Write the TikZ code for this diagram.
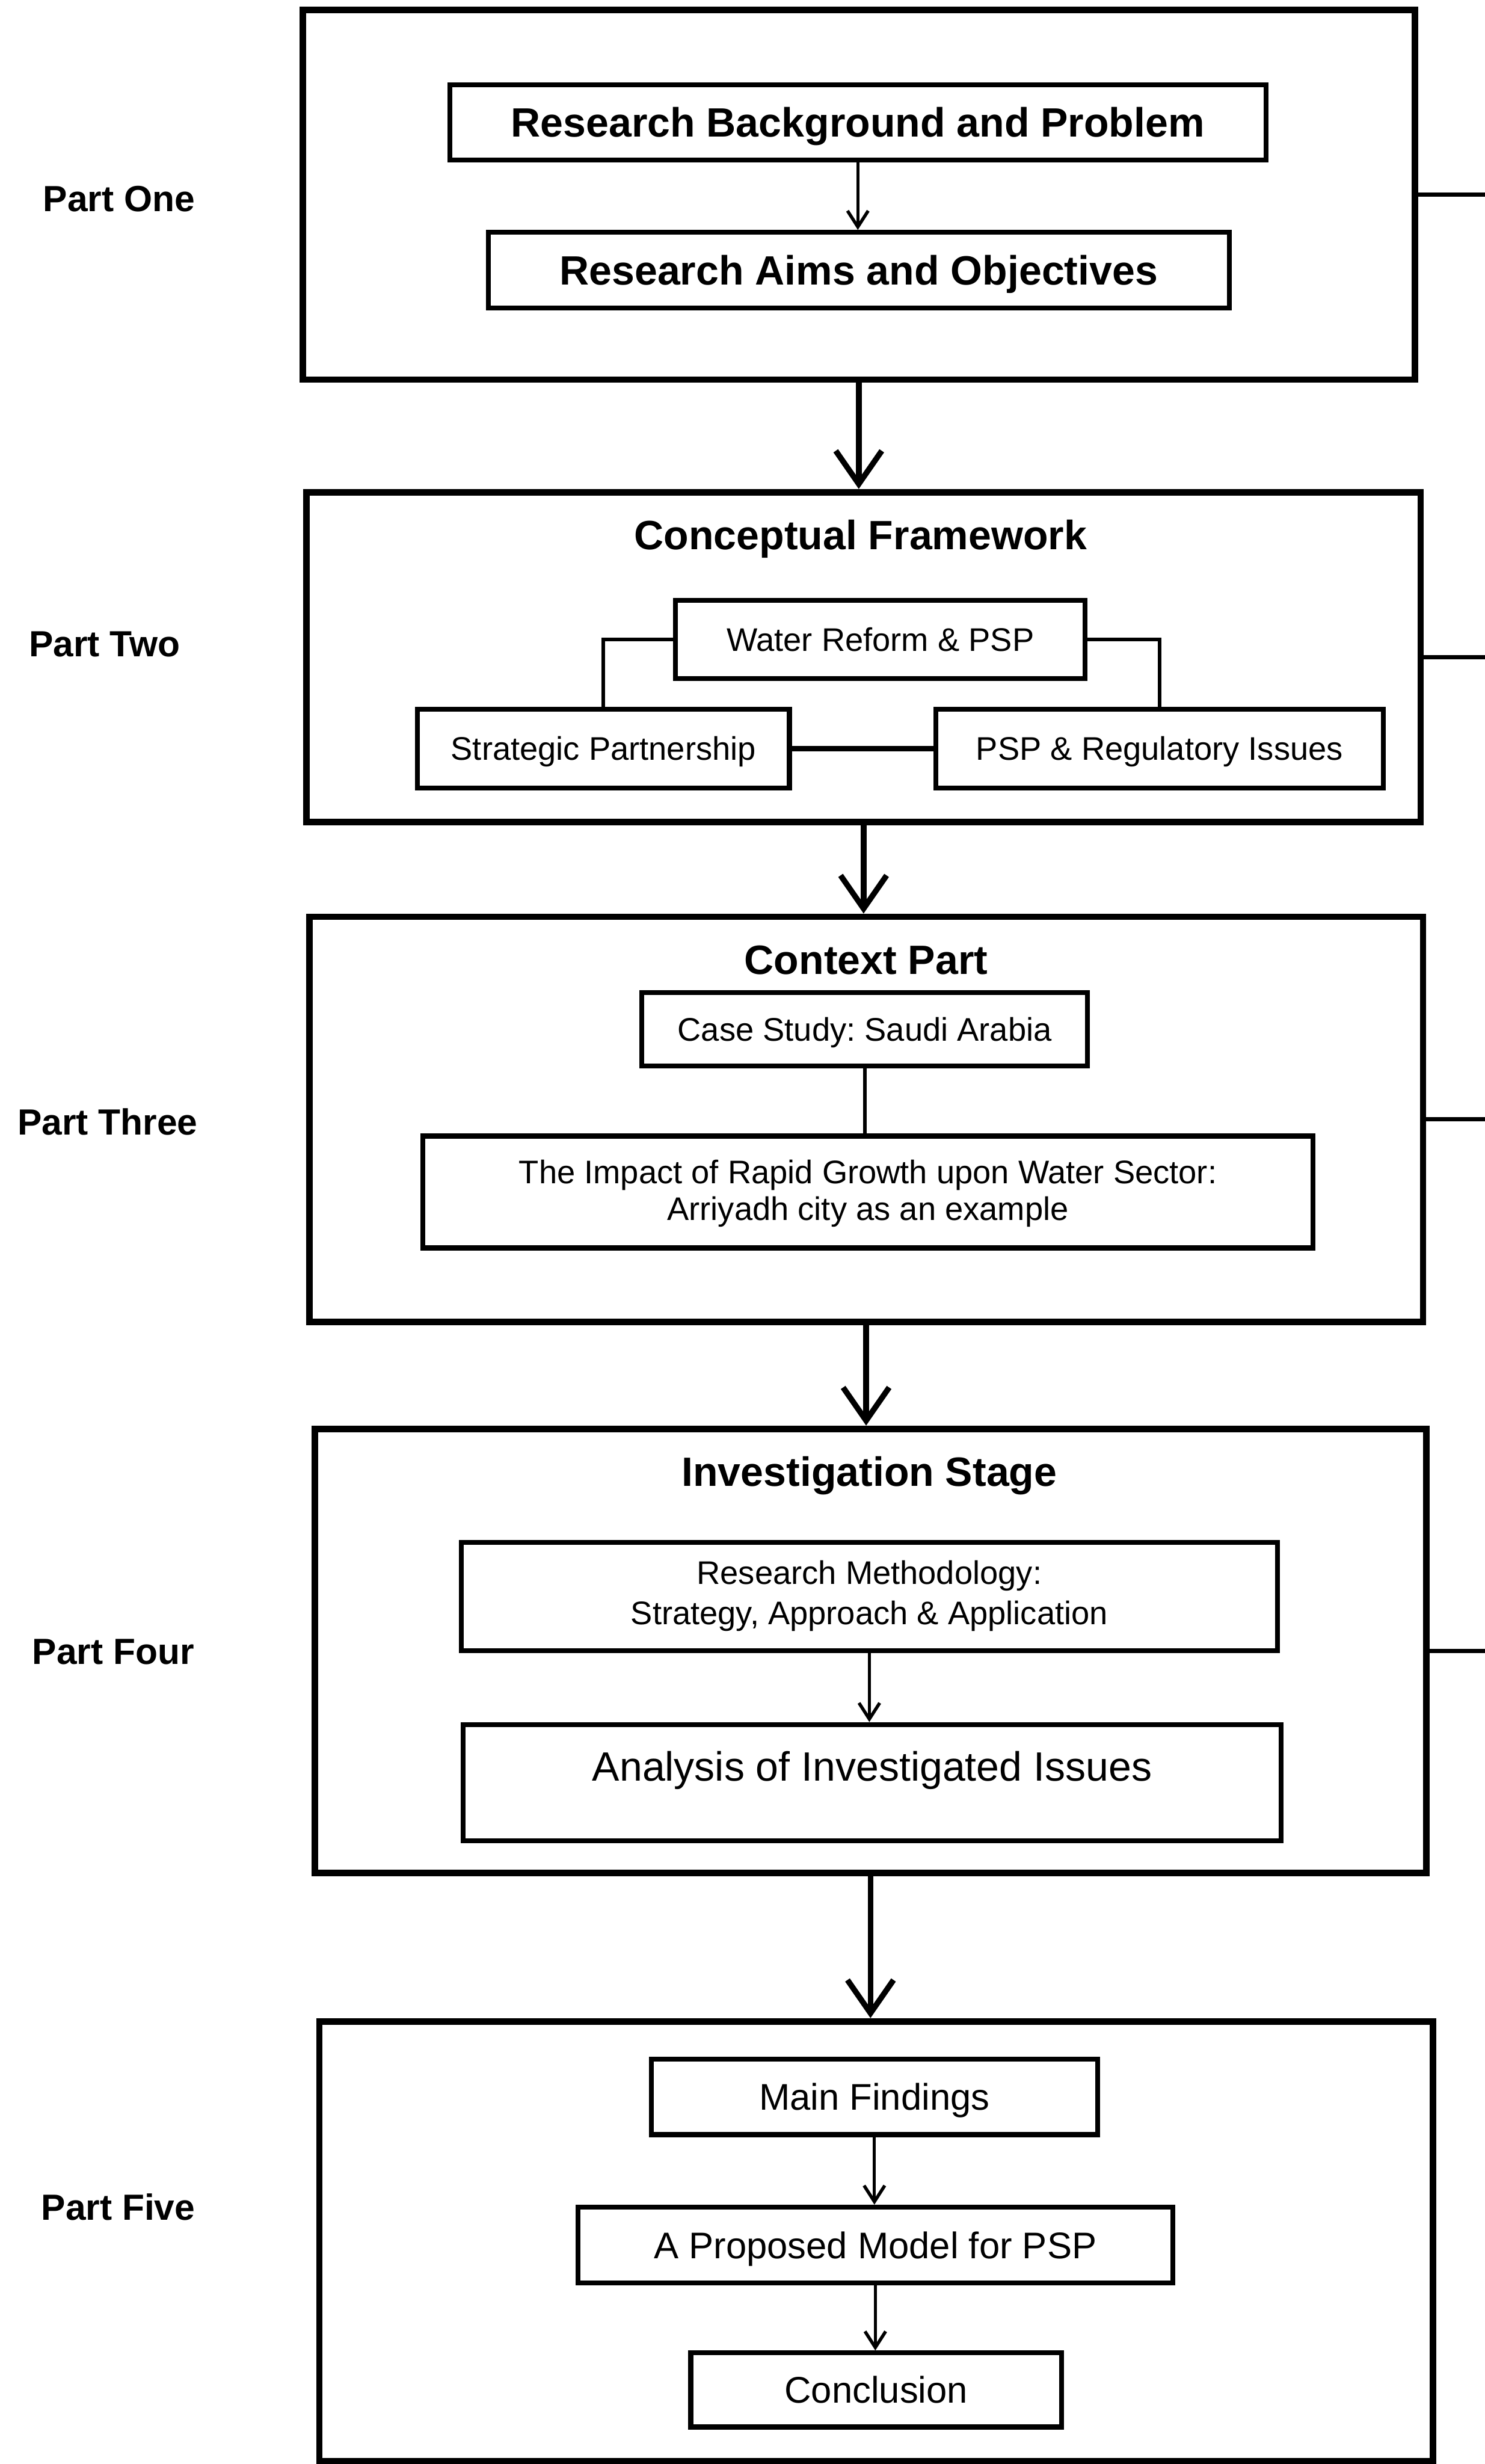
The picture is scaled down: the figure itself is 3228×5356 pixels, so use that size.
\documentclass[tikz,border=0pt]{standalone}
\usepackage{fontspec}
\setmainfont{Liberation Sans}
\usetikzlibrary{arrows.meta}
\frenchspacing
\begin{document}
\begin{tikzpicture}[x=0.01cm, y=-0.01cm,
  bigbox/.style={draw, line width=4pt, inner sep=0pt},
  inbox/.style={draw, line width=3pt, inner sep=0pt, align=center},
  fbig/.style={font=\bfseries\fontsize{25.3}{30}\selectfont, text height=18.1pt, text depth=0pt},
  fmid/.style={font=\fontsize{22.9}{27}\selectfont, text height=16.4pt, text depth=0pt},
  fsmall/.style={font=\fontsize{20.2}{24}\selectfont, text height=14.5pt, text depth=0pt},
  partlbl/.style={anchor=base, inner sep=0pt, font=\bfseries\fontsize{22.5}{27}\selectfont},
  ttl/.style={anchor=base, inner sep=0pt, font=\bfseries\fontsize{25.3}{30}\selectfont},
  bigarrow/.style={line width=3.5pt, -{Straight Barb[length=7.2mm, width=10mm]}},
  smallarrow/.style={line width=2pt, -{Straight Barb[length=3.5mm, width=4.5mm]}},
  link/.style={line width=2.2pt},
  thicklink/.style={line width=3.5pt},
  sideline/.style={line width=2.6pt}]
\useasboundingbox (0,0) rectangle (3228,5356);
\coordinate (edge) at (3228,0);

% stage frames
\node[bigbox, minimum width=24.16cm, minimum height=8.03cm] (p1) at (1867,423.5) {};
\node[bigbox, minimum width=24.21cm, minimum height=7.17cm] (p2) at (1877.5,1428.5) {};
\node[bigbox, minimum width=24.20cm, minimum height=8.80cm] (p3) at (1883,2433) {};
\node[bigbox, minimum width=24.15cm, minimum height=9.65cm] (p4) at (1892.5,3588.5) {};
\node[bigbox, minimum width=24.20cm, minimum height=9.56cm] (p5) at (1905,4872) {};

% part labels
\node[partlbl] (l1) at (259,459) {Part One};
\node[partlbl] (l2) at (227,1427) {Part Two};
\node[partlbl] (l3) at (234,2467) {Part Three};
\node[partlbl] (l4) at (246,3618) {Part Four};
\node[partlbl] (l5) at (257,4826) {Part Five};

% stage titles
\node[ttl] (t2) at (1871,1195) {Conceptual Framework};
\node[ttl] (t3) at (1883,2118) {Context Part};
\node[ttl] (t4) at (1890,3231) {Investigation Stage};

% part one
\node[inbox, fbig, minimum width=17.74cm, minimum height=1.64cm] (rbp) at (1865,266) {Research Background and Problem};
\node[inbox, fbig, minimum width=16.10cm, minimum height=1.64cm] (rao) at (1867,587) {Research Aims and Objectives};

% part two
\node[inbox, fsmall, minimum width=8.90cm, minimum height=1.71cm] (wr) at (1914,1390) {Water Reform \& PSP};
\node[inbox, fsmall, minimum width=8.08cm, minimum height=1.71cm] (sp) at (1312,1627) {Strategic Partnership};
\node[inbox, fsmall, minimum width=9.73cm, minimum height=1.71cm] (pr) at (2521,1627) {PSP \& Regulatory Issues};

% part three
\node[inbox, fsmall, minimum width=9.68cm, minimum height=1.60cm] (cs) at (1880,2237) {Case Study: Saudi Arabia};
\node[inbox, font=\fontsize{20.2}{22.8}\selectfont, text height=37.3pt, text depth=2pt,
      minimum width=19.35cm, minimum height=2.43cm] (imp) at (1887,2591)
      {The Impact of Rapid Growth upon Water Sector:\\ Arriyadh city as an example};

% part four
\node[inbox, font=\fontsize{20.2}{25}\selectfont, text height=39.5pt, text depth=4.9pt,
      minimum width=17.74cm, minimum height=2.35cm] (rm) at (1890,3470)
      {Research Methodology:\\ Strategy, Approach \& Application};
\node[inbox, font=\fontsize{25.3}{30}\selectfont, text height=18.1pt, text depth=20.4pt,
      minimum width=17.77cm, minimum height=2.53cm] (aii) at (1896,3875) {Analysis of Investigated Issues};

% part five
\node[inbox, fmid, minimum width=9.69cm, minimum height=1.64cm] (mf) at (1901,4558) {Main Findings};
\node[inbox, fmid, minimum width=12.93cm, minimum height=1.65cm] (pm) at (1903,4880) {A Proposed Model for PSP};
\node[inbox, fmid, minimum width=8.06cm, minimum height=1.61cm] (cc) at (1905,5195) {Conclusion};

% links inside the stages
\draw[smallarrow] (rbp.south) -- (rbp.south |- rao.north);
\draw[link] (wr.west) -| (sp.north);
\draw[link] (wr.east) -| (pr.north);
\draw[thicklink] (sp.east) -- (pr.west);
\draw[link] (cs.south) -- (cs.south |- imp.north);
\draw[smallarrow] (rm.south) -- (rm.south |- aii.north);
\draw[smallarrow] (mf.south) -- (mf.south |- pm.north);
\draw[smallarrow] (pm.south) -- (pm.south |- cc.north);

% flow between stages
\draw[bigarrow] (p1.south) -- (p1.south |- p2.north);
\draw[bigarrow] (p2.south) -- (p2.south |- p3.north);
\draw[bigarrow] (p3.south) -- (p3.south |- p4.north);
\draw[bigarrow] (p4.south) -- (p4.south |- p5.north);

% lines leaving the frames on the right
\draw[sideline] (p1.east) -- (p1.east -| edge);
\draw[sideline] (p2.east) -- (p2.east -| edge);
\draw[sideline] (p3.east) -- (p3.east -| edge);
\draw[sideline] (p4.east) -- (p4.east -| edge);
\end{tikzpicture}
\end{document}
